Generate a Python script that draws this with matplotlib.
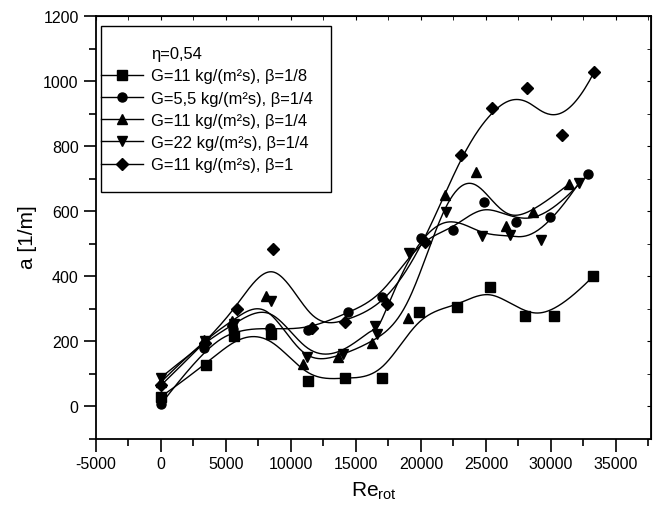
import numpy as np
import matplotlib
matplotlib.use("Agg")
import matplotlib.pyplot as plt
from matplotlib.lines import Line2D
from matplotlib.patches import Rectangle
from matplotlib.ticker import MultipleLocator

plt.rcParams['font.family'] = ['Liberation Sans', 'DejaVu Sans']
plt.rcParams['mathtext.fontset'] = 'custom'
plt.rcParams['mathtext.rm'] = 'Liberation Sans'
plt.rcParams['mathtext.it'] = 'Liberation Sans:italic'
plt.rcParams['axes.unicode_minus'] = False

# data (Re_rot, a)
x_sq = [0, 3440, 5640, 8460, 11330, 14150, 17000, 19820, 22800, 25300, 27970, 30260, 33250]
y_sq = [30, 127, 217, 224, 78, 89, 87, 289, 307, 368, 279, 279, 400]

x_ci = [0, 3330, 5560, 8380, 11330, 14410, 16970, 19970, 22440, 24870, 27280, 29920, 32870]
y_ci = [7, 180, 238, 240, 236, 289, 335, 517, 543, 629, 566, 581, 714]

x_up = [0, 3300, 5500, 8080, 10900, 13640, 16200, 18970, 21850, 24200, 26540, 28590, 31410]
y_up = [75, 205, 262, 340, 130, 153, 196, 272, 651, 720, 555, 597, 684]

x_dn = [0, 3400, 5600, 8440, 11210, 13970, 16460, 16640, 19050, 21920, 24670, 26850, 29200, 32180]
y_dn = [89, 200, 252, 325, 151, 160, 248, 224, 472, 599, 525, 527, 512, 688]

x_di = [0, 3350, 5820, 8640, 11590, 14150, 17360, 20300, 23080, 25480, 28130, 30820, 33330]
y_di = [65, 195, 300, 484, 242, 261, 316, 505, 773, 917, 978, 833, 1028]

labels = ["G=11 kg/(m²s), β=1/8", "G=5,5 kg/(m²s), β=1/4", "G=11 kg/(m²s), β=1/4",
          "G=22 kg/(m²s), β=1/4", "G=11 kg/(m²s), β=1"]
markers = ['s', 'o', '^', 'v', 'D']


def bspline(xs, ys, k=3, n=400):
    # clamped uniform B-spline using the points as control points (Origin style)
    P = np.column_stack([xs, ys]).astype(float)
    m = len(P)
    knots = np.concatenate([np.zeros(k), np.arange(m - k + 1), np.full(k, m - k)]).astype(float)
    t = np.linspace(0, m - k - 1e-9, n)
    N = np.zeros((n, len(knots) - 1))
    for i in range(len(knots) - 1):
        N[:, i] = (knots[i] <= t) & (t < knots[i + 1])
    for d in range(1, k + 1):
        Nn = np.zeros((n, N.shape[1] - 1))
        for i in range(N.shape[1] - 1):
            a = knots[i + d] - knots[i]
            b = knots[i + d + 1] - knots[i + 1]
            if a > 0:
                Nn[:, i] += (t - knots[i]) / a * N[:, i]
            if b > 0:
                Nn[:, i] += (knots[i + d + 1] - t) / b * N[:, i + 1]
        N = Nn
    C = N @ P
    return C[:, 0], C[:, 1]


fig = plt.figure(figsize=(6.53, 5.10), dpi=100)
ax = fig.add_axes([96 / 653, 70 / 510, 555 / 653, 423 / 510])

series = [(x_sq, y_sq), (x_ci, y_ci), (x_up, y_up), (x_dn, y_dn), (x_di, y_di)]
handles = [Line2D([], [], linestyle='none', label='η=0,54')]
for (xs, ys), mk, lab in zip(series, markers, labels):
    cx, cy = bspline(xs, ys)
    ax.plot(cx, cy, color='black', lw=1)
    ms = 6.5 if mk != 'D' else 6
    ax.plot(xs, ys, linestyle='none', marker=mk, color='black', ms=ms)
    handles.append(Line2D([], [], color='black', lw=1, marker=mk, ms=ms, label=lab))

ax.set_xlim(-5000, 37700)
ax.set_ylim(-100, 1200)
ax.xaxis.set_major_locator(MultipleLocator(5000))
ax.xaxis.set_minor_locator(MultipleLocator(2500))
ax.yaxis.set_major_locator(MultipleLocator(200))
ax.yaxis.set_minor_locator(MultipleLocator(100))
ax.tick_params(which='major', direction='out', length=9, width=1.2, labelsize=11.5)
ax.tick_params(which='minor', direction='out', length=5, width=1.2)
for s in ax.spines.values():
    s.set_linewidth(1.3)

top = ax.secondary_xaxis('top')
top.xaxis.set_major_locator(MultipleLocator(5000))
top.xaxis.set_minor_locator(MultipleLocator(2500))
top.tick_params(which='both', direction='in', length=3, labeltop=False)
right = ax.secondary_yaxis('right')
right.yaxis.set_major_locator(MultipleLocator(200))
right.yaxis.set_minor_locator(MultipleLocator(100))
right.tick_params(which='both', direction='in', length=3, labelright=False)

ax.set_xlabel(r"Re$_{\mathrm{rot}}$", fontsize=15, labelpad=6)
ax.set_ylabel("a [1/m]", fontsize=15)
ax.yaxis.set_label_coords(-0.106, 0.48)

# legend without its own frame; box drawn separately (Origin style, handles touch the frame)
ax.legend(handles=handles, loc='upper left', bbox_to_anchor=(0.009, 0.929),
          borderaxespad=0, borderpad=0, frameon=False, fontsize=11.9,
          handlelength=2.55, handletextpad=0.5, labelspacing=0.44)
ax.add_patch(Rectangle((0.009, 0.584), 0.414, 0.392, transform=ax.transAxes,
                       fill=False, edgecolor='black', lw=1.0, zorder=5))

fig.savefig("out.png", dpi=100)
